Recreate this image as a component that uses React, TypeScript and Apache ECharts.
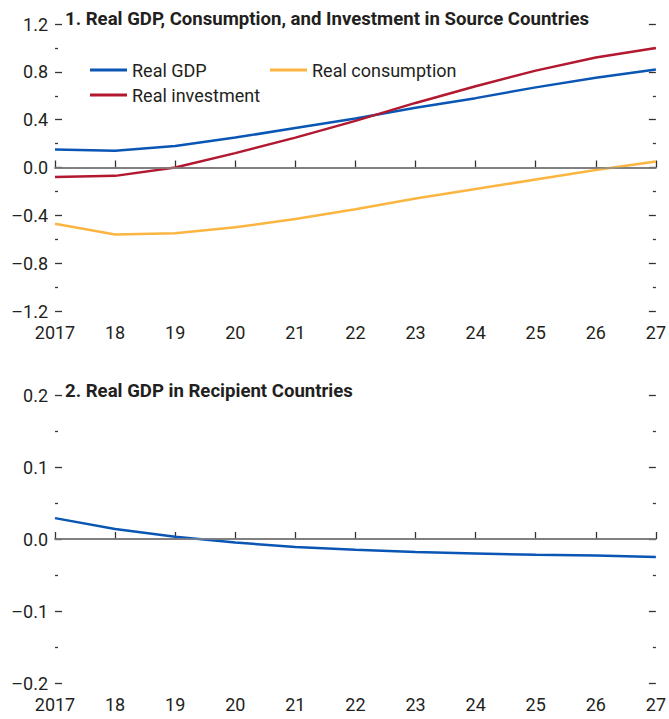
import React, { useEffect, useRef } from "react";
import * as echarts from "echarts";

const years = ["2017", "18", "19", "20", "21", "22", "23", "24", "25", "26", "27"];
const realGdpSource = [0.15, 0.14, 0.18, 0.25, 0.33, 0.41, 0.5, 0.58, 0.67, 0.75, 0.82];
const realConsumption = [-0.47, -0.56, -0.55, -0.5, -0.43, -0.35, -0.26, -0.18, -0.1, -0.02, 0.05];
const realInvestment = [-0.08, -0.07, 0.0, 0.12, 0.25, 0.39, 0.54, 0.68, 0.81, 0.92, 1.0];
const realGdpRecipient = [0.029, 0.014, 0.003, -0.005, -0.011, -0.015, -0.018, -0.02, -0.022, -0.023, -0.025];

const title1 = "1. Real GDP, Consumption, and Investment in Source Countries";
const title2 = "2. Real GDP in Recipient Countries";

const BLUE = "#0a56b4";
const RED = "#b2182f";
const YELLOW = "#fbb540";
const TEXT = "#231f20";
const FONT = "Roboto, 'Liberation Sans', sans-serif";

const fmt = (v: number) => {
  const s = Math.abs(v) < 1e-9 ? "0.0" : v.toFixed(1);
  return s.replace("-", "\u2013");
};

function yAxes(gridIndex: number, min: number, max: number, interval: number) {
  const common = {
    gridIndex,
    type: "value",
    min,
    max,
    interval,
    axisLine: { show: false },
    splitLine: { show: false },
    axisTick: { show: true, inside: true, length: 7, lineStyle: { color: "#333", width: 1.3 } },
    minorTick: { show: true, splitNumber: 2, length: 3, lineStyle: { color: "#333", width: 1.3 } },
  };
  return [
    {
      ...common,
      position: "left",
      axisLabel: { show: true, formatter: fmt, color: TEXT, fontSize: 18, fontFamily: FONT, margin: 7 },
    },
    {
      ...common,
      position: "right",
      axisLabel: { show: false },
    },
  ];
}

function xAxis(gridIndex: number) {
  return {
    gridIndex,
    type: "category",
    data: years,
    boundaryGap: false,
    axisLine: { show: true, lineStyle: { color: "#333", width: 1.5 } },
    axisTick: { show: true, inside: true, length: 7, lineStyle: { color: "#333", width: 1.3 } },
    axisLabel: { color: TEXT, fontSize: 18, fontFamily: FONT, margin: 12 },
    splitLine: { show: false },
  };
}

const zeroLine = (xAxisIndex: number, yAxisIndex: number) => ({
  type: "line",
  name: "zero" + xAxisIndex,
  xAxisIndex,
  yAxisIndex,
  data: [],
  silent: true,
  z: 1,
  markLine: {
    silent: true,
    symbol: "none",
    label: { show: false },
    lineStyle: { color: "#8a8a8a", width: 1.5, type: "solid" },
    data: [{ yAxis: 0 }],
  },
});

const lineSeries = (name: string, data: number[], color: string, xAxisIndex: number, yAxisIndex: number) => ({
  type: "line",
  name,
  data,
  xAxisIndex,
  yAxisIndex,
  symbol: "none",
  z: 3,
  lineStyle: { color, width: 2.5 },
  itemStyle: { color },
});

const legendBase = {
  icon: "rect",
  itemWidth: 37,
  itemHeight: 3,
  padding: 0,
  textStyle: { color: TEXT, fontSize: 18, fontFamily: FONT },
  selectedMode: false,
};

const titleStyle = { color: TEXT, fontSize: 18.6, fontWeight: "bold", fontFamily: FONT };

export default function App() {
  const ref = useRef<HTMLDivElement>(null);
  useEffect(() => {
    if (!ref.current) return;
    const chart = echarts.init(ref.current, null, { renderer: "svg" });
    chart.setOption({
      animation: false,
      backgroundColor: "#fff",
      title: [
        { text: title1, left: 65, top: 9, padding: 0, textStyle: titleStyle },
        { text: title2, left: 65, top: 381, padding: 0, textStyle: titleStyle },
      ],
      legend: [
        { ...legendBase, data: ["Real GDP"], left: 90, top: 61 },
        { ...legendBase, data: ["Real consumption"], left: 270, top: 61 },
        { ...legendBase, data: ["Real investment"], left: 90, top: 86 },
      ],
      grid: [
        { left: 55, right: 10, top: 24, height: 287 },
        { left: 55, right: 10, top: 395, height: 288 },
      ],
      xAxis: [xAxis(0), xAxis(1)],
      yAxis: [...yAxes(0, -1.2, 1.2, 0.4), ...yAxes(1, -0.2, 0.2, 0.1)],
      series: [
        zeroLine(0, 0),
        zeroLine(1, 2),
        lineSeries("Real GDP", realGdpSource, BLUE, 0, 0),
        lineSeries("Real consumption", realConsumption, YELLOW, 0, 0),
        lineSeries("Real investment", realInvestment, RED, 0, 0),
        lineSeries("Real GDP ", realGdpRecipient, BLUE, 1, 2),
      ],
    });
    return () => chart.dispose();
  }, []);
  return (
    <div
      ref={ref}
      style={{ position: "fixed", left: 0, top: 0, width: 669, height: 719 }}
    />
  );
}
